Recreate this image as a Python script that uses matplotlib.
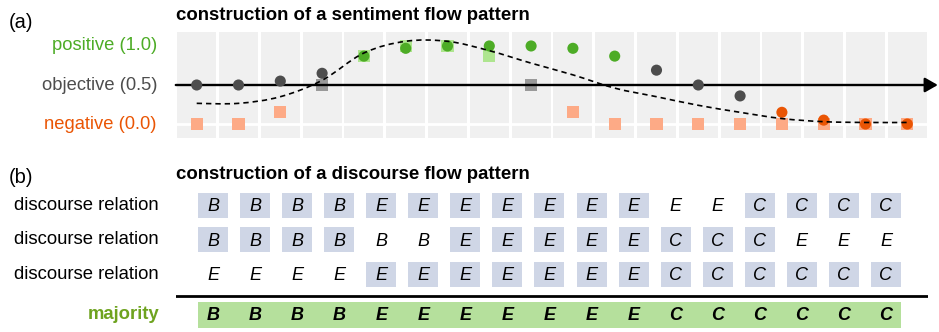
import numpy as np
import matplotlib
matplotlib.use("Agg")
import matplotlib.pyplot as plt
from matplotlib.path import Path
from matplotlib.patches import PathPatch, Rectangle
from matplotlib.transforms import blended_transform_factory

plt.rcParams['font.family'] = ['Liberation Sans', 'DejaVu Sans']

# ---------------- data ----------------
# (a) sentiment per sentence: predicted score (circles) and gold label (squares)
sentiment_scores = [0.5, 0.5, 0.55, 0.65, 0.87, 0.97, 1.0, 1.0, 1.0,
                    0.97, 0.87, 0.69, 0.5, 0.36, 0.15, 0.05, 0.0, 0.0]
sentiment_labels = [0.0, 0.0, 0.15, 0.5, 0.87, 1.0, 1.0, 0.87, 0.5,
                    0.15, 0.0, 0.0, 0.0, 0.0, 0.0, 0.0, 0.0, 0.0]
# smoothed sentiment flow (dashed curve)
flow_pattern = [0.265, 0.265, 0.35, 0.56, 0.91, 1.06, 1.06, 0.94, 0.78,
                0.63, 0.46, 0.35, 0.24, 0.15, 0.07, 0.03, 0.02, 0.02]
level_names = ["positive (1.0)", "objective (0.5)", "negative (0.0)"]
level_values = [1.0, 0.5, 0.0]

# (b) discourse relations from three annotators and their majority vote
relations_1 = list("BBBBEEEEEEEEECCCC")
relations_2 = list("BBBBBBEEEEECCCEEE")
relations_3 = list("EEEEEEEEEEECCCCCC")
majority = list("BBBBEEEEEEECCCCCC")
row_label = "discourse relation"

# ---------------- styling ----------------
GREEN = "#4dac26"
DARK = "#4d4d4d"
ORANGE = "#ea5504"
SQ_GREEN = "#aee58f"
SQ_GRAY = "#999999"
SQ_SALMON = "#fdaa86"
BOX = "#cfd6e6"
MAJ_BG = "#b5e09c"
MAJ_TXT = "#6ea31f"


def circle_color(v):
    return GREEN if v >= 0.75 else (ORANGE if v <= 0.25 else DARK)


def square_color(v):
    return SQ_GREEN if v >= 0.75 else (SQ_SALMON if v <= 0.25 else SQ_GRAY)


W, H = 939, 332
fig = plt.figure(figsize=(W / 100, H / 100), dpi=100)


def px_rect(x0, y0, x1, y1):
    return [x0 / W, 1 - y1 / H, (x1 - x0) / W, (y1 - y0) / H]


# ---------------- panel (a) ----------------
n = len(sentiment_scores)
cols = np.arange(n)
axa = fig.add_axes(px_rect(175.8, 32, 928.2, 138))
axa.set_xlim(-0.5, n - 0.5)
axa.set_ylim(-0.179, 1.179)
axa.axis("off")

ylo, yhi = axa.get_ylim()
axa.bar(cols, yhi - ylo, bottom=ylo, width=0.93, color="#f0f0f0", zorder=0)
axa.axhline(0.0, color="white", lw=2.0, zorder=1)

axa.scatter(cols, sentiment_labels, marker="s", s=8.8 ** 2,
            c=[square_color(v) for v in sentiment_labels], linewidths=0, zorder=2)
axa.annotate("", xy=(n - 0.27, 0.5), xytext=(-0.5, 0.5),
             arrowprops=dict(arrowstyle="-|>,head_length=0.7,head_width=0.4",
                             lw=1.7, color="black", shrinkA=0, shrinkB=0,
                             mutation_scale=11),
             annotation_clip=False, zorder=3)
axa.scatter(cols, sentiment_scores, marker="o", s=8.0 ** 2,
            c=[circle_color(v) for v in sentiment_scores], linewidths=0, zorder=4)

# smooth dashed flow curve (Catmull-Rom rendered as cubic Bezier segments)
pts = np.column_stack([cols, flow_pattern]).astype(float)
verts = [tuple(pts[0])]
codes = [Path.MOVETO]
for i in range(len(pts) - 1):
    p0 = pts[i - 1] if i > 0 else pts[i]
    p1, p2 = pts[i], pts[i + 1]
    p3 = pts[i + 2] if i + 2 < len(pts) else pts[i + 1]
    c1 = p1 + (p2 - p0) / 6.0
    c2 = p2 - (p3 - p1) / 6.0
    verts += [tuple(c1), tuple(c2), tuple(p2)]
    codes += [Path.CURVE4] * 3
axa.add_patch(PathPatch(Path(verts, codes), fill=False, ec="black", lw=1.2,
                        linestyle=(0, (3.2, 2.4)), zorder=5))

lab_tf = blended_transform_factory(fig.transFigure, axa.transData)
for name, v, col in zip(level_names, level_values, [GREEN, DARK, ORANGE]):
    fig.text(157 / W, v, name, transform=lab_tf, ha="right", va="center",
             fontsize=13.2, color=col)

fig.text(176 / W, 1 - 19.5 / H, "construction of a sentiment flow pattern",
         fontsize=13.4, fontweight="bold", va="baseline", ha="left")
fig.text(9 / W, 1 - 28 / H, "(a)", fontsize=14.5, va="baseline", ha="left")

# ---------------- panel (b) ----------------
m = len(majority)
axb = fig.add_axes(px_rect(176, 190, 928, 332))
axb.set_xlim(-0.88, 17.0)
axb.set_ylim(3.67, -0.45)
axb.axis("off")

bw, bh = 0.713, 0.725
rows = [relations_1, relations_2, relations_3]
for r, rel in enumerate(rows):
    for j, letter in enumerate(rel):
        if letter == majority[j]:
            axb.add_patch(Rectangle((j - bw / 2, r - bh / 2), bw, bh,
                                    facecolor=BOX, edgecolor="none", zorder=1))
        axb.text(j, r + 0.03, letter, ha="center", va="center", fontsize=13,
                 style="italic", zorder=2)

maj_y = 3.17
axb.axhline(2.62, color="black", lw=2.0, xmin=0, xmax=1)
axb.add_patch(Rectangle((-bw / 2, maj_y - 0.377), (m - 1) + bw, 0.754,
                        facecolor=MAJ_BG, edgecolor="none", zorder=1))
for j, letter in enumerate(majority):
    axb.text(j, maj_y + 0.03, letter, ha="center", va="center", fontsize=13,
             style="italic", fontweight="bold", zorder=2)

lab_tf_b = blended_transform_factory(fig.transFigure, axb.transData)
for r in range(len(rows)):
    fig.text(159 / W, r, row_label, transform=lab_tf_b, ha="right", va="center",
             fontsize=13.3)
fig.text(159 / W, maj_y, "majority", transform=lab_tf_b, ha="right",
         va="center", fontsize=13.3, fontweight="bold", color=MAJ_TXT)

fig.text(176 / W, 1 - 179 / H, "construction of a discourse flow pattern",
         fontsize=13.4, fontweight="bold", va="baseline", ha="left")
fig.text(9 / W, 1 - 183 / H, "(b)", fontsize=14.5, va="baseline", ha="left")

fig.savefig("out.png", dpi=100)
